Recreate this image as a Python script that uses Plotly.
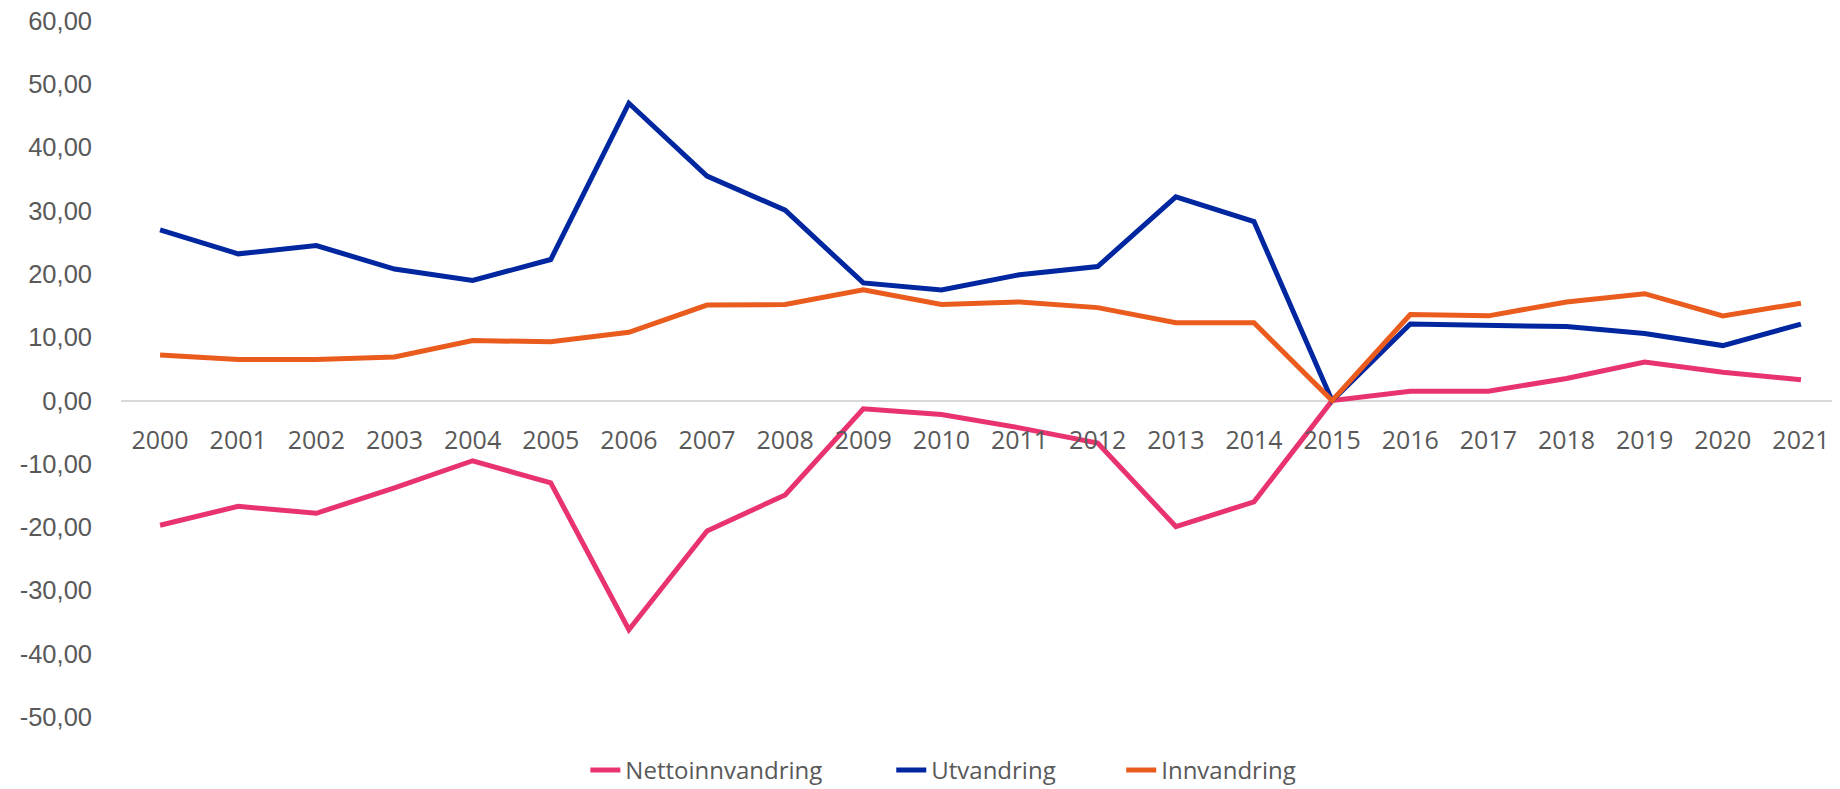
import plotly.graph_objects as go

years = [str(y) for y in range(2000, 2022)]

utvandring = [27.0, 23.2, 24.5, 20.8, 19.0, 22.3, 47.0, 35.5, 30.1, 18.6, 17.5,
              19.9, 21.2, 32.2, 28.3, 0.0, 12.1, 11.9, 11.7, 10.6, 8.7, 12.1]
innvandring = [7.2, 6.5, 6.5, 6.9, 9.5, 9.3, 10.8, 15.1, 15.2, 17.5, 15.2,
               15.6, 14.7, 12.3, 12.3, 0.0, 13.6, 13.4, 15.6, 16.9, 13.4, 15.4]
nettoinnvandring = [-19.7, -16.7, -17.8, -13.8, -9.5, -13.0, -36.2, -20.6, -14.9, -1.3, -2.2,
                    -4.3, -6.7, -19.9, -16.0, 0.0, 1.5, 1.5, 3.5, 6.1, 4.5, 3.3]

y_tick_values = [60, 50, 40, 30, 20, 10, 0, -10, -20, -30, -40, -50]
y_tick_labels = ["60,00", "50,00", "40,00", "30,00", "20,00", "10,00", "0,00",
                 "-10,00", "-20,00", "-30,00", "-40,00", "-50,00"]

series = [
    ("Nettoinnvandring", nettoinnvandring, "#E8336F", "legend"),
    ("Utvandring", utvandring, "#0026A0", "legend2"),
    ("Innvandring", innvandring, "#EA5B1E", "legend3"),
]

y_min, y_max = -50, 60
grey = "#595959"
label_font = "Open Sans, sans-serif"
yaxis_font = "Liberation Sans, Arial, sans-serif"

fig = go.Figure()
for name, vals, col, lg in series:
    fig.add_trace(go.Scatter(x=years, y=vals, name=name, mode="lines", legend=lg,
                             line=dict(color=col, width=5)))

ydom = [0, 1]
xpos = ydom[0] + (0 - y_min) / (y_max - y_min) * (ydom[1] - ydom[0])

# page body adds an 8px offset, so the figure is 8px smaller in each direction
W, H = 1832, 781
ml, mr, mt, mb = 112.5, 0, 12.5, 71.5
pw = W - ml - mr
ph = H - mt - mb


def lx(px):
    return (px - ml) / pw


legend_y = -((771 - 8) - (H - mb)) / ph

legend_common = dict(orientation="h", xanchor="left", y=legend_y, yanchor="middle",
                     font=dict(family=label_font, size=24, color=grey),
                     bgcolor="rgba(0,0,0,0)")

fig.update_layout(
    width=W, height=H,
    paper_bgcolor="white", plot_bgcolor="white",
    margin=dict(l=ml, r=mr, t=mt, b=mb, autoexpand=False),
    font=dict(family=label_font, color=grey, size=25),
    showlegend=True,
    legend=dict(x=lx(627 - 50), **legend_common),
    legend2=dict(x=lx(933 - 50), **legend_common),
    legend3=dict(x=lx(1163 - 50), **legend_common),
    xaxis=dict(type="category", range=[-0.5, 21.5], anchor="free", position=xpos,
               showgrid=False, showline=False, ticks="", zeroline=False,
               ticklabelstandoff=22, automargin=False, ticklabeloverflow="allow",
               tickfont=dict(family=label_font, size=25, color=grey)),
    yaxis=dict(range=[y_min, y_max], domain=ydom,
               tickvals=y_tick_values, ticktext=y_tick_labels,
               showgrid=False, zeroline=True, zerolinecolor="#D9D9D9", zerolinewidth=2,
               showline=False, ticks="", ticklabelstandoff=28, automargin=False,
               ticklabeloverflow="allow",
               tickfont=dict(family=yaxis_font, size=25.5, color=grey)),
)

fig.write_html("out.html")
